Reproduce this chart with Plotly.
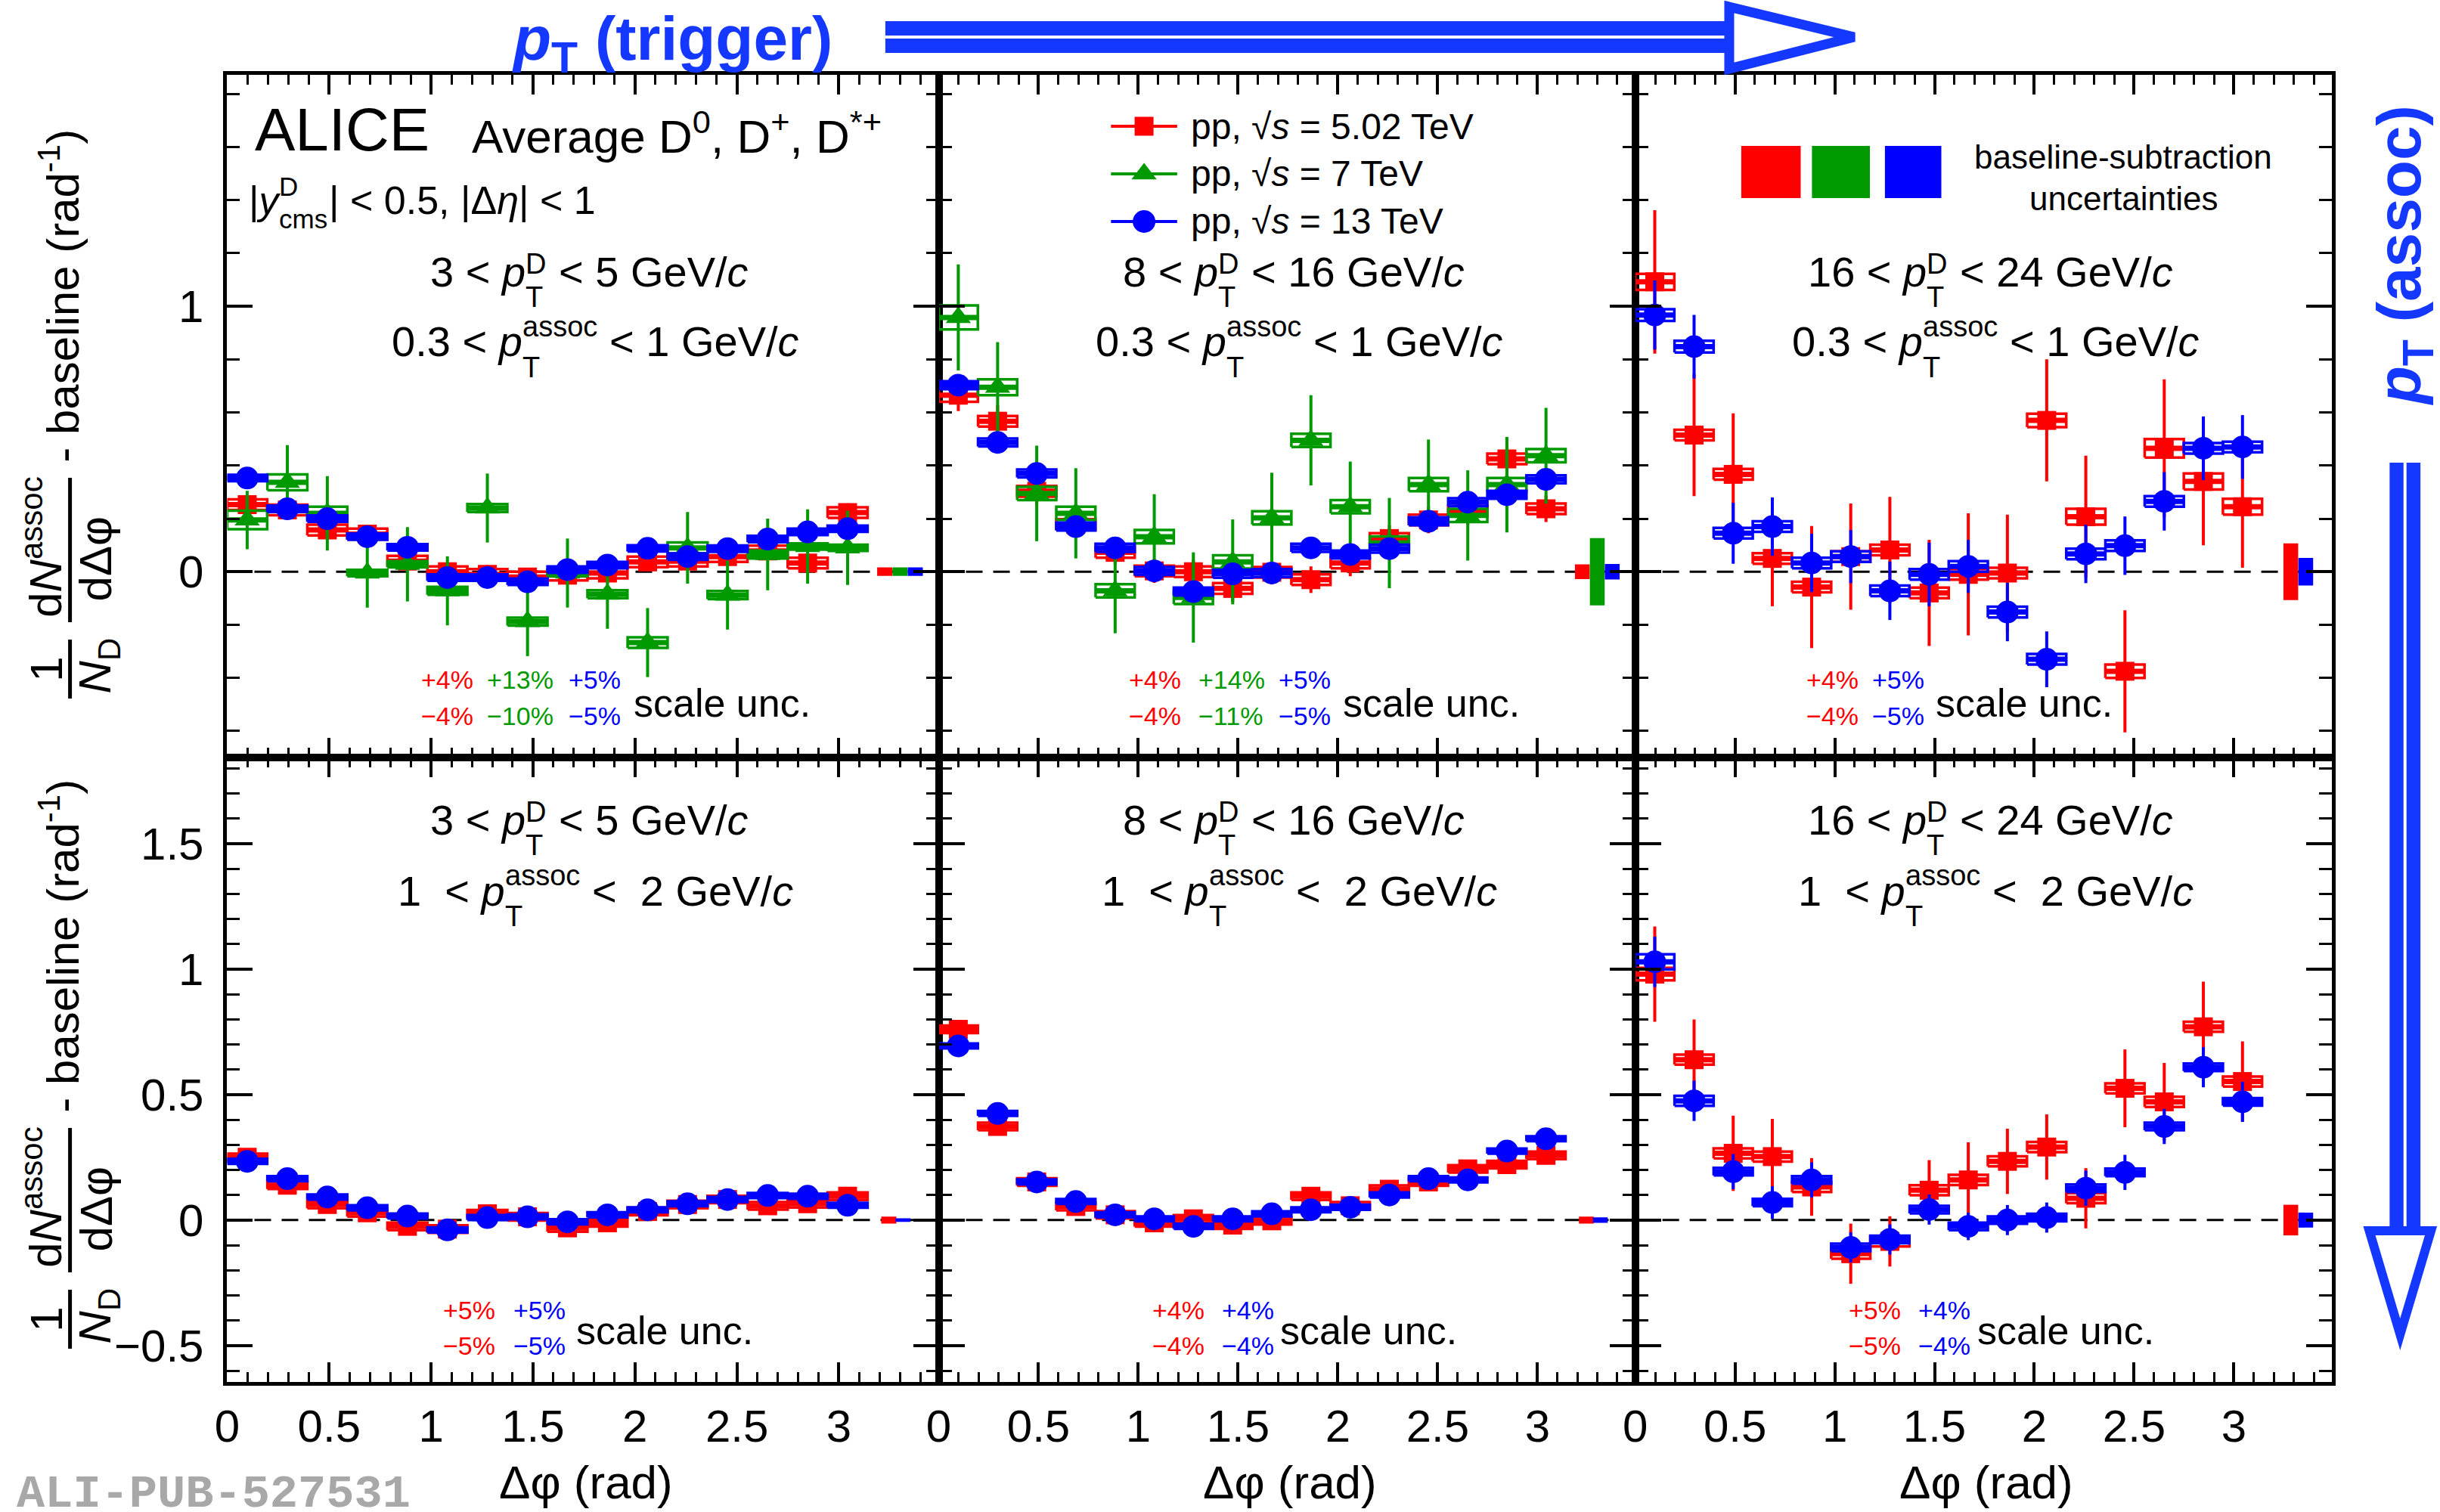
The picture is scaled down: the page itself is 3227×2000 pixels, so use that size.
import plotly.graph_objects as go

W, H = 3227, 2000

# ---------------- data ----------------
DPHI = [0.098, 0.295, 0.491, 0.687, 0.884, 1.080, 1.276, 1.473,
        1.669, 1.865, 2.062, 2.258, 2.454, 2.651, 2.847, 3.043]
DPHI_HALF_BIN = 0.098

SERIES_LABELS = {"502": "pp, √<i>s</i> = 5.02 TeV", "7": "pp, √<i>s</i> = 7 TeV", "13": "pp, √<i>s</i> = 13 TeV"}
PT_D_BINS = [("3", "5"), ("8", "16"), ("16", "24")]
PT_ASSOC_BINS = [("0.3", "1"), ("1", "2")]
X_TICK_STEP = 0.5

# panel 1: 3<pT<5, 0.3<pTassoc<1
P1_Y_502 = [0.253, 0.233, 0.157, 0.142, 0.040, 0.000, -0.010, -0.020, -0.013, -0.005, 0.037, 0.040, 0.057, 0.078, 0.033, 0.223]
P1_STAT_502 = [0.035, 0.035, 0.035, 0.035, 0.035, 0.035, 0.035, 0.035, 0.035, 0.035, 0.035, 0.035, 0.035, 0.035, 0.035, 0.035]
P1_SYS_502 = [0.02, 0.02, 0.02, 0.02, 0.02, 0.02, 0.02, 0.02, 0.02, 0.02, 0.02, 0.02, 0.02, 0.02, 0.02, 0.02]
P1_Y_7 = [0.195, 0.337, 0.220, -0.005, 0.028, -0.072, 0.240, -0.188, -0.005, -0.085, -0.267, 0.090, -0.088, 0.065, 0.095, 0.090]
P1_STAT_7 = [0.11, 0.14, 0.14, 0.13, 0.14, 0.13, 0.13, 0.13, 0.13, 0.13, 0.13, 0.135, 0.13, 0.135, 0.14, 0.14]
P1_SYS_7 = [0.035, 0.03, 0.025, 0.012, 0.012, 0.015, 0.015, 0.015, 0.012, 0.015, 0.02, 0.02, 0.015, 0.015, 0.012, 0.012]
P1_Y_13 = [0.353, 0.237, 0.200, 0.132, 0.092, -0.022, -0.022, -0.038, 0.008, 0.025, 0.088, 0.057, 0.087, 0.123, 0.150, 0.162]
P1_STAT_13 = [0.02, 0.02, 0.02, 0.02, 0.02, 0.02, 0.02, 0.02, 0.02, 0.02, 0.02, 0.02, 0.02, 0.02, 0.02, 0.02]
P1_SYS_13 = [0.012, 0.012, 0.012, 0.012, 0.012, 0.012, 0.012, 0.012, 0.012, 0.012, 0.012, 0.012, 0.012, 0.012, 0.012, 0.012]
P1_BASE = {"502": 0.016, "7": 0.016, "13": 0.016}
P1_SCALE = [("502", "+4%", "−4%"), ("7", "+13%", "−10%"), ("13", "+5%", "−5%")]

# panel 2: 8<pT<16, 0.3<pTassoc<1
P2_Y_502 = [0.665, 0.567, 0.303, 0.178, 0.073, 0.003, 0.000, -0.063, -0.002, -0.030, 0.033, 0.125, 0.195, 0.228, 0.425, 0.237]
P2_STAT_502 = [0.06, 0.06, 0.05, 0.05, 0.045, 0.045, 0.045, 0.05, 0.045, 0.05, 0.05, 0.05, 0.05, 0.05, 0.06, 0.05]
P2_SYS_502 = [0.025, 0.02, 0.02, 0.02, 0.02, 0.02, 0.02, 0.02, 0.02, 0.02, 0.02, 0.02, 0.02, 0.02, 0.02, 0.02]
P2_Y_7 = [0.958, 0.695, 0.295, 0.220, -0.072, 0.132, -0.097, 0.037, 0.203, 0.495, 0.245, 0.108, 0.328, 0.212, 0.328, 0.437]
P2_STAT_7 = [0.20, 0.17, 0.18, 0.17, 0.16, 0.16, 0.17, 0.16, 0.17, 0.17, 0.17, 0.17, 0.17, 0.17, 0.18, 0.18]
P2_SYS_7 = [0.045, 0.03, 0.025, 0.025, 0.025, 0.025, 0.025, 0.025, 0.025, 0.025, 0.025, 0.025, 0.025, 0.025, 0.025, 0.025]
P2_Y_13 = [0.703, 0.487, 0.370, 0.170, 0.090, 0.003, -0.075, -0.008, -0.005, 0.090, 0.065, 0.087, 0.190, 0.262, 0.290, 0.348]
P2_STAT_13 = [0.025, 0.025, 0.025, 0.025, 0.025, 0.025, 0.025, 0.025, 0.025, 0.025, 0.025, 0.025, 0.025, 0.025, 0.025, 0.025]
P2_SYS_13 = [0.015, 0.015, 0.015, 0.015, 0.015, 0.015, 0.015, 0.015, 0.015, 0.015, 0.015, 0.015, 0.015, 0.015, 0.015, 0.015]
P2_BASE = {"502": 0.028, "7": 0.127, "13": 0.029}
P2_SCALE = [("502", "+4%", "−4%"), ("7", "+14%", "−11%"), ("13", "+5%", "−5%")]

# panel 3: 16<pT<24, 0.3<pTassoc<1
P3_Y_502 = [1.092, 0.515, 0.367, 0.050, -0.058, 0.057, 0.082, -0.080, -0.010, -0.005, 0.570, 0.207, -0.375, 0.465, 0.340, 0.245]
P3_STAT_502 = [0.27, 0.23, 0.23, 0.18, 0.23, 0.20, 0.20, 0.20, 0.23, 0.22, 0.23, 0.23, 0.23, 0.26, 0.24, 0.23]
P3_SYS_502 = [0.03, 0.02, 0.02, 0.02, 0.02, 0.02, 0.02, 0.02, 0.02, 0.02, 0.025, 0.03, 0.025, 0.035, 0.03, 0.03]
P3_Y_13 = [0.967, 0.848, 0.145, 0.170, 0.033, 0.057, -0.072, -0.010, 0.020, -0.152, -0.330, 0.067, 0.098, 0.265, 0.465, 0.470]
P3_STAT_13 = [0.13, 0.12, 0.115, 0.11, 0.11, 0.10, 0.11, 0.12, 0.10, 0.11, 0.105, 0.11, 0.11, 0.11, 0.12, 0.12]
P3_SYS_13 = [0.022, 0.022, 0.02, 0.02, 0.02, 0.02, 0.02, 0.02, 0.02, 0.02, 0.02, 0.02, 0.02, 0.02, 0.02, 0.02]
P3_BASE = {"502": 0.107, "13": 0.052}
P3_SCALE = [("502", "+4%", "−4%"), ("13", "+5%", "−5%")]

# panel 4: 3<pT<5, 1<pTassoc<2
P4_Y_502 = [0.250, 0.139, 0.062, 0.029, -0.025, -0.036, 0.025, 0.013, -0.031, -0.011, 0.034, 0.062, 0.082, 0.057, 0.065, 0.095]
P4_STAT_502 = [0.025, 0.025, 0.025, 0.025, 0.025, 0.025, 0.025, 0.025, 0.025, 0.025, 0.025, 0.025, 0.025, 0.025, 0.025, 0.025]
P4_SYS_502 = [0.015, 0.015, 0.015, 0.015, 0.015, 0.015, 0.015, 0.015, 0.015, 0.015, 0.015, 0.015, 0.015, 0.015, 0.015, 0.015]
P4_Y_13 = [0.234, 0.165, 0.092, 0.049, 0.016, -0.039, 0.010, 0.013, -0.007, 0.021, 0.041, 0.065, 0.082, 0.098, 0.095, 0.059]
P4_STAT_13 = [0.015, 0.015, 0.015, 0.015, 0.015, 0.015, 0.015, 0.015, 0.015, 0.015, 0.015, 0.015, 0.015, 0.015, 0.015, 0.015]
P4_SYS_13 = [0.01, 0.01, 0.01, 0.01, 0.01, 0.01, 0.01, 0.01, 0.01, 0.01, 0.01, 0.01, 0.01, 0.01, 0.01, 0.01]
P4_BASE = {"502": 0.014, "13": 0.007}
P4_SCALE = [("502", "+5%", "−5%"), ("13", "+5%", "−5%")]

# panel 5: 8<pT<16, 1<pTassoc<2
P5_Y_502 = [0.760, 0.373, 0.152, 0.054, 0.021, -0.011, 0.005, -0.020, -0.003, 0.095, 0.057, 0.123, 0.152, 0.204, 0.221, 0.258]
P5_STAT_502 = [0.03, 0.025, 0.025, 0.025, 0.025, 0.025, 0.025, 0.025, 0.025, 0.025, 0.025, 0.025, 0.025, 0.025, 0.025, 0.025]
P5_SYS_502 = [0.015, 0.015, 0.015, 0.015, 0.015, 0.015, 0.015, 0.015, 0.015, 0.015, 0.015, 0.015, 0.015, 0.015, 0.015, 0.015]
P5_Y_13 = [0.694, 0.425, 0.152, 0.074, 0.021, 0.005, -0.025, 0.005, 0.025, 0.041, 0.051, 0.100, 0.165, 0.160, 0.275, 0.324]
P5_STAT_13 = [0.015, 0.015, 0.015, 0.015, 0.015, 0.015, 0.015, 0.015, 0.015, 0.015, 0.015, 0.015, 0.015, 0.015, 0.015, 0.015]
P5_SYS_13 = [0.01, 0.01, 0.01, 0.01, 0.01, 0.01, 0.01, 0.01, 0.01, 0.01, 0.01, 0.01, 0.01, 0.01, 0.01, 0.01]
P5_BASE = {"502": 0.014, "13": 0.011}
P5_SCALE = [("502", "+4%", "−4%"), ("13", "+4%", "−4%")]

# panel 6: 16<pT<24, 1<pTassoc<2
P6_Y_502 = [0.980, 0.639, 0.266, 0.253, 0.132, -0.134, -0.085, 0.119, 0.160, 0.234, 0.291, 0.087, 0.525, 0.471, 0.770, 0.552]
P6_STAT_502 = [0.19, 0.16, 0.15, 0.15, 0.115, 0.12, 0.10, 0.12, 0.15, 0.13, 0.13, 0.12, 0.155, 0.155, 0.18, 0.16]
P6_SYS_502 = [0.025, 0.02, 0.02, 0.02, 0.02, 0.02, 0.02, 0.02, 0.02, 0.02, 0.02, 0.02, 0.02, 0.02, 0.02, 0.02]
P6_Y_13 = [1.029, 0.475, 0.193, 0.070, 0.160, -0.109, -0.077, 0.042, -0.025, 0.000, 0.010, 0.127, 0.190, 0.373, 0.609, 0.471]
P6_STAT_13 = [0.10, 0.08, 0.07, 0.065, 0.07, 0.06, 0.06, 0.06, 0.055, 0.06, 0.06, 0.07, 0.07, 0.07, 0.08, 0.08]
P6_SYS_13 = [0.03, 0.02, 0.015, 0.015, 0.015, 0.015, 0.015, 0.015, 0.015, 0.015, 0.015, 0.015, 0.015, 0.015, 0.015, 0.015]
P6_BASE = {"502": 0.061, "13": 0.030}
P6_SCALE = [("502", "+5%", "−5%"), ("13", "+4%", "−4%")]

PANELS = [
    dict(row=0, col=0, ptd=0, pta=0, base=P1_BASE, scale=P1_SCALE,
         series=[("502", P1_Y_502, P1_STAT_502, P1_SYS_502), ("7", P1_Y_7, P1_STAT_7, P1_SYS_7), ("13", P1_Y_13, P1_STAT_13, P1_SYS_13)]),
    dict(row=0, col=1, ptd=1, pta=0, base=P2_BASE, scale=P2_SCALE,
         series=[("502", P2_Y_502, P2_STAT_502, P2_SYS_502), ("7", P2_Y_7, P2_STAT_7, P2_SYS_7), ("13", P2_Y_13, P2_STAT_13, P2_SYS_13)]),
    dict(row=0, col=2, ptd=2, pta=0, base=P3_BASE, scale=P3_SCALE,
         series=[("502", P3_Y_502, P3_STAT_502, P3_SYS_502), ("13", P3_Y_13, P3_STAT_13, P3_SYS_13)]),
    dict(row=1, col=0, ptd=0, pta=1, base=P4_BASE, scale=P4_SCALE,
         series=[("502", P4_Y_502, P4_STAT_502, P4_SYS_502), ("13", P4_Y_13, P4_STAT_13, P4_SYS_13)]),
    dict(row=1, col=1, ptd=1, pta=1, base=P5_BASE, scale=P5_SCALE,
         series=[("502", P5_Y_502, P5_STAT_502, P5_SYS_502), ("13", P5_Y_13, P5_STAT_13, P5_SYS_13)]),
    dict(row=1, col=2, ptd=2, pta=1, base=P6_BASE, scale=P6_SCALE,
         series=[("502", P6_Y_502, P6_STAT_502, P6_SYS_502), ("13", P6_Y_13, P6_STAT_13, P6_SYS_13)]),
]

# ---------------- style / layout ----------------
COLOR = {"502": "#ff0000", "7": "#009a00", "13": "#0000ff"}
SYMBOL = {"502": "square", "7": "triangle-up", "13": "circle"}
MSIZE = {"502": 25, "7": 29, "13": 30}
BLUE_DECO = "#1438ff"
TXT = "Liberation Sans, Arial, Helvetica, sans-serif"
AXF = "Liberation Sans Narrow, Arial Narrow, Liberation Sans, Arial, sans-serif"

COLX = [(285, 1231), (1231, 2157), (2157, 3083)]
ROWY = [(99, 1002), (1002, 1828)]
YRANGE = [[-0.70, 1.872], [-0.645, 1.843]]
YDTICK = [(1.0, 0.2), (0.5, 0.1)]
XMAX = 3.49
BASE_HALF = 0.037
BASE_POS = {
    (0, 0): {"502": 3.225, "7": 3.30, "13": 3.375},
    (0, 1): {"502": 3.225, "7": 3.30, "13": 3.375},
    (0, 2): {"502": 3.285, "13": 3.36},
    (1, 0): {"502": 3.245, "13": 3.315},
    (1, 1): {"502": 3.245, "13": 3.315},
    (1, 2): {"502": 3.285, "13": 3.36},
}
SCALE_POS = {  # x of each colored column and of "scale unc."
    (0, 0): [541, 628, 737, 823], (0, 1): [1482, 1574, 1681, 1766], (0, 2): [2383, 2470, 2554],
    (1, 0): [570, 663, 747], (1, 1): [1513, 1605, 1683], (1, 2): [2439, 2531, 2610],
}
SCALE_Y = [(899, 947, 930), (1733, 1780, 1760)]
LABEL_Y = [(359, 452), (1084, 1178)]

fig = go.Figure()
annotations = []
shapes = []

def ann(x, y, text, size, color="black", xanchor="center", yanchor="middle", angle=0, family=TXT):
    annotations.append(dict(x=x / W, y=1 - y / H, xref="paper", yref="paper", text=text,
                            showarrow=False, xanchor=xanchor, yanchor=yanchor, textangle=angle,
                            font=dict(size=int(round(size)), color=color, family=family)))

AW = {' ': 278, '\u00a0': 278, '%': 889, '(': 333, ')': 333, '*': 389, '+': 584, ',': 278, '-': 333,
      '.': 278, '/': 278, '<': 584, '=': 584, '>': 584, '|': 260, 'Δ': 668, 'η': 556, 'φ': 650}
for d in "0123456789":
    AW[d] = 556
AW.update(dict(A=667, B=667, C=722, D=722, E=667, F=611, G=778, H=722, I=278, J=500, K=667, L=556,
               M=833, N=722, O=778, P=667, Q=778, R=722, S=667, T=611, U=722, V=667, W=944, X=667, Y=667, Z=611))
AW.update(dict(a=556, b=556, c=500, d=556, e=556, f=278, g=556, h=556, i=222, j=222, k=500, l=222, m=833,
               n=556, o=556, p=556, q=556, r=333, s=500, t=278, u=556, v=500, w=722, x=500, y=500, z=500))
SS = 0.68

def tw(s, size):
    return sum(AW.get(c, 556) for c in s) / 1000.0 * size

def rich(segs, y, size, xc=None, xl=None, sup_dy=-0.18, sub_dy=0.6, color="black"):
    ws = []
    for s in segs:
        if s[0] == "t":
            ws.append(tw(s[2], size))
        else:
            ws.append(max(tw(s[1], size * SS), tw(s[2], size * SS)) + 0.03 * size)
    x = xl if xl is not None else xc - sum(ws) / 2
    for s, w in zip(segs, ws):
        if s[0] == "t":
            lead = len(s[2]) - len(s[2].lstrip(" "))
            ann(x + tw(s[2][:lead], size), y, s[1], size, xanchor="left", color=color)
        else:
            ann(x + 0.01 * size, y + sup_dy * size, s[1], size * SS, xanchor="left", color=color)
            ann(x + 0.01 * size, y + sub_dy * size, s[2], size * SS, xanchor="left", color=color)
        x += w

layout = dict(width=W, height=H, margin=dict(l=0, r=0, t=0, b=0), paper_bgcolor="white",
              plot_bgcolor="rgba(0,0,0,0)", showlegend=False, hovermode=False)

for idx, P in enumerate(PANELS):
    k = idx + 1
    r, c = P["row"], P["col"]
    x0, x1 = COLX[c]
    y0, y1 = ROWY[r]
    xs = "x" if k == 1 else f"x{k}"
    ys = "y" if k == 1 else f"y{k}"
    layout["xaxis" if k == 1 else f"xaxis{k}"] = dict(
        domain=[x0 / W, x1 / W], anchor=ys, range=[0, XMAX], showgrid=False, zeroline=False,
        showline=True, linecolor="black", linewidth=5, mirror="allticks",
        ticks="inside", ticklen=26, tickwidth=4, tickcolor="black", tick0=0, dtick=X_TICK_STEP,
        minor=dict(ticks="inside", ticklen=13, tickwidth=3, tickcolor="black", dtick=0.1, tick0=0, showgrid=False),
        showticklabels=(r == 1), tickfont=dict(family=AXF, size=60, color="black"),
        ticklabelstandoff=2, fixedrange=True)
    layout["yaxis" if k == 1 else f"yaxis{k}"] = dict(
        domain=[1 - y1 / H, 1 - y0 / H], anchor=xs, range=YRANGE[r], showgrid=False, zeroline=False,
        showline=True, linecolor="black", linewidth=5, mirror="allticks",
        ticks="inside", ticklen=34, tickwidth=4, tickcolor="black", tick0=0, dtick=YDTICK[r][0],
        minor=dict(ticks="inside", ticklen=17, tickwidth=3, tickcolor="black", dtick=YDTICK[r][1], tick0=0, showgrid=False),
        showticklabels=(c == 0), tickfont=dict(family=AXF, size=60, color="black"),
        ticklabelstandoff=14, fixedrange=True)

    # dashed zero line
    shapes.append(dict(type="line", xref=f"{xs} domain", yref=ys, x0=0, x1=1, y0=0, y1=0,
                       line=dict(color="black", width=3, dash="22px,14px"), layer="below"))

    for key, yv, st, sy in P["series"]:
        col = COLOR[key]
        bx, by = [], []
        for xv, yy, s in zip(DPHI, yv, sy):
            a, b = xv - DPHI_HALF_BIN, xv + DPHI_HALF_BIN
            bx += [a, b, b, a, a, None]
            by += [yy - s, yy - s, yy + s, yy + s, yy - s, None]
        fig.add_trace(go.Scatter(x=bx, y=by, mode="lines", line=dict(color=col, width=3.5),
                                 xaxis=xs, yaxis=ys, hoverinfo="skip", showlegend=False))
        fig.add_trace(go.Scatter(
            x=DPHI, y=yv, mode="markers",
            marker=dict(symbol=SYMBOL[key], size=MSIZE[key], color=col, line=dict(width=0)),
            error_x=dict(type="constant", value=DPHI_HALF_BIN, thickness=7, width=0, color=col),
            error_y=dict(type="data", array=st, thickness=4, width=0, color=col),
            xaxis=xs, yaxis=ys, hoverinfo="skip", showlegend=False))
    # baseline-subtraction uncertainty boxes
    for key, _, _, _ in P["series"]:
        xc = BASE_POS[(r, c)][key]
        h = P["base"][key]
        fig.add_trace(go.Scatter(
            x=[xc - BASE_HALF, xc + BASE_HALF, xc + BASE_HALF, xc - BASE_HALF, xc - BASE_HALF],
            y=[-h, -h, h, h, -h], mode="lines", fill="toself", fillcolor=COLOR[key],
            line=dict(width=0, color=COLOR[key]), xaxis=xs, yaxis=ys, hoverinfo="skip", showlegend=False))

    # pT labels
    pcx = (x0 + x1) / 2 + 6
    lo, hi = PT_D_BINS[P["ptd"]]
    rich([("t", f"{lo} &lt; <i>p</i>", f"{lo} < p"), ("ss", "D", "T"),
          ("t", f"&lt; {hi} GeV/<i>c</i>", f" < {hi} GeV/c")], LABEL_Y[r][0], 56, xc=pcx, sup_dy=-0.18)
    alo, ahi = PT_ASSOC_BINS[P["pta"]]
    if r == 0:
        rich([("t", f"{alo} &lt; <i>p</i>", f"{alo} < p"), ("ss", "assoc", "T"),
              ("t", f"&lt; {ahi} GeV/<i>c</i>", f" < {ahi} GeV/c")], LABEL_Y[r][1], 56, xc=pcx + 8, sup_dy=-0.36)
    else:
        rich([("t", f"{alo}\u00a0 &lt; <i>p</i>", f"{alo}  < p"), ("ss", "assoc", "T"),
              ("t", f"&lt;\u00a0 {ahi} GeV/<i>c</i>", f" <  {ahi} GeV/c")], LABEL_Y[r][1], 56, xc=pcx + 8, sup_dy=-0.35)

    # scale uncertainties
    pos = SCALE_POS[(r, c)]
    yu, yl, ysc = SCALE_Y[r]
    for (key, up, dn), xp in zip(P["scale"], pos[:-1]):
        ann(xp, yu, up, 34, color=COLOR[key], xanchor="left")
        ann(xp, yl, dn, 34, color=COLOR[key], xanchor="left")
    ann(pos[-1], ysc, "scale unc.", 52, xanchor="left")

    # x-axis title
    if r == 1:
        ann((x0 + x1) / 2 + 4, 1960, "Δφ (rad)", 62, family=AXF)

# overlay axes in pixel units for decorations
layout["xaxis7"] = dict(domain=[0, 1], range=[0, W], visible=False, fixedrange=True, anchor="y7")
layout["yaxis7"] = dict(domain=[0, 1], range=[H, 0], visible=False, fixedrange=True, anchor="x7")

# legend (middle top panel)
LEG_Y = {"502": 167, "7": 230, "13": 293}
for key in ["502", "7", "13"]:
    yy = LEG_Y[key]
    fig.add_trace(go.Scatter(x=[1460, 1548], y=[yy, yy], mode="lines", line=dict(color=COLOR[key], width=4),
                             xaxis="x7", yaxis="y7", hoverinfo="skip", showlegend=False))
    fig.add_trace(go.Scatter(x=[1504], y=[yy], mode="markers",
                             marker=dict(symbol=SYMBOL[key], size=MSIZE[key], color=COLOR[key], line=dict(width=0)),
                             xaxis="x7", yaxis="y7", hoverinfo="skip", showlegend=False))
    ann(1564, yy, SERIES_LABELS[key], 48, xanchor="left")

# baseline-subtraction legend (right top panel)
for key, (bx0, bx1) in zip(["502", "7", "13"], [(2298, 2377), (2392, 2469), (2489, 2564)]):
    shapes.append(dict(type="rect", xref="x7", yref="y7", x0=bx0, x1=bx1, y0=193, y1=262,
                       fillcolor=COLOR[key], line=dict(width=0)))
ann(2806, 208, "baseline-subtraction", 44)
ann(2806, 262, "uncertainties", 44)

# top-left texts
ann(320, 171, "ALICE", 80, xanchor="left")
ann(608, 176, "Average D<sup>0</sup>, D<sup>+</sup>, D<sup>*+</sup>", 62, xanchor="left")
rich([("t", "|<i>y</i>", "|y"), ("ss", "D", "cms"), ("t", "| &lt; 0.5, |Δ<i>η</i>| &lt; 1", "| < 0.5, |Δη| < 1")],
     265, 52, xl=312, sup_dy=-0.36, sub_dy=0.48)

# y-axis titles (fraction built from pieces)
for off in (0, 860):
    ann(44, 885 + off, "1", 60, angle=-90)
    ann(114, 880 + off, "<i>N</i><sub>D</sub>", 60, angle=-90)
    shapes.append(dict(type="line", xref="x7", yref="y7", x0=76, x1=76, y0=846 + off, y1=924 + off,
                       line=dict(color="black", width=5)))
    ann(39, 724 + off, "d<i>N</i><sup>assoc</sup>", 60, angle=-90)
    ann(111, 739 + off, "dΔφ", 60, angle=-90)
    shapes.append(dict(type="line", xref="x7", yref="y7", x0=76, x1=76, y0=632 + off, y1=823 + off,
                       line=dict(color="black", width=5)))
    ann(62, 391 + off, "- baseline (rad<sup>-1</sup>)", 60, angle=-90)

# decorative arrows and labels
shapes.append(dict(type="rect", xref="x7", yref="y7", x0=1160, x1=2282, y0=28, y1=70,
                   fillcolor=BLUE_DECO, line=dict(width=0)))
shapes.append(dict(type="line", xref="x7", yref="y7", x0=1160, x1=2282, y0=49, y1=49,
                   line=dict(color="white", width=4)))
shapes.append(dict(type="path", xref="x7", yref="y7", path="M 2282 9 L 2448 49 L 2282 91 Z",
                   fillcolor="white", line=dict(color=BLUE_DECO, width=13)))
shapes.append(dict(type="rect", xref="x7", yref="y7", x0=3160, x1=3201, y0=612, y1=1628,
                   fillcolor=BLUE_DECO, line=dict(width=0)))
shapes.append(dict(type="line", xref="x7", yref="y7", x0=3180.5, x1=3180.5, y0=612, y1=1628,
                   line=dict(color="white", width=4)))
shapes.append(dict(type="path", xref="x7", yref="y7", path="M 3133 1628 L 3215 1628 L 3174 1765 Z",
                   fillcolor="white", line=dict(color=BLUE_DECO, width=12)))
ann(877, 57, "<b><i>p</i><sub>T</sub> (trigger)</b>", 82, color=BLUE_DECO)
ann(3178, 338, "<b><i>p</i><sub>T</sub> (assoc)</b>", 82, color=BLUE_DECO, angle=-90)

# watermark
ann(3, 1976, "<b>ALI-PUB-527531</b>", 62, color="#a8a8a8", xanchor="left",
    family="Liberation Mono, DejaVu Sans Mono, Courier New, monospace")

layout["annotations"] = annotations
layout["shapes"] = shapes
fig.update_layout(**layout)
fig.write_html("out.html", config={"displayModeBar": False},
               post_script="document.body.style.margin='0';")
